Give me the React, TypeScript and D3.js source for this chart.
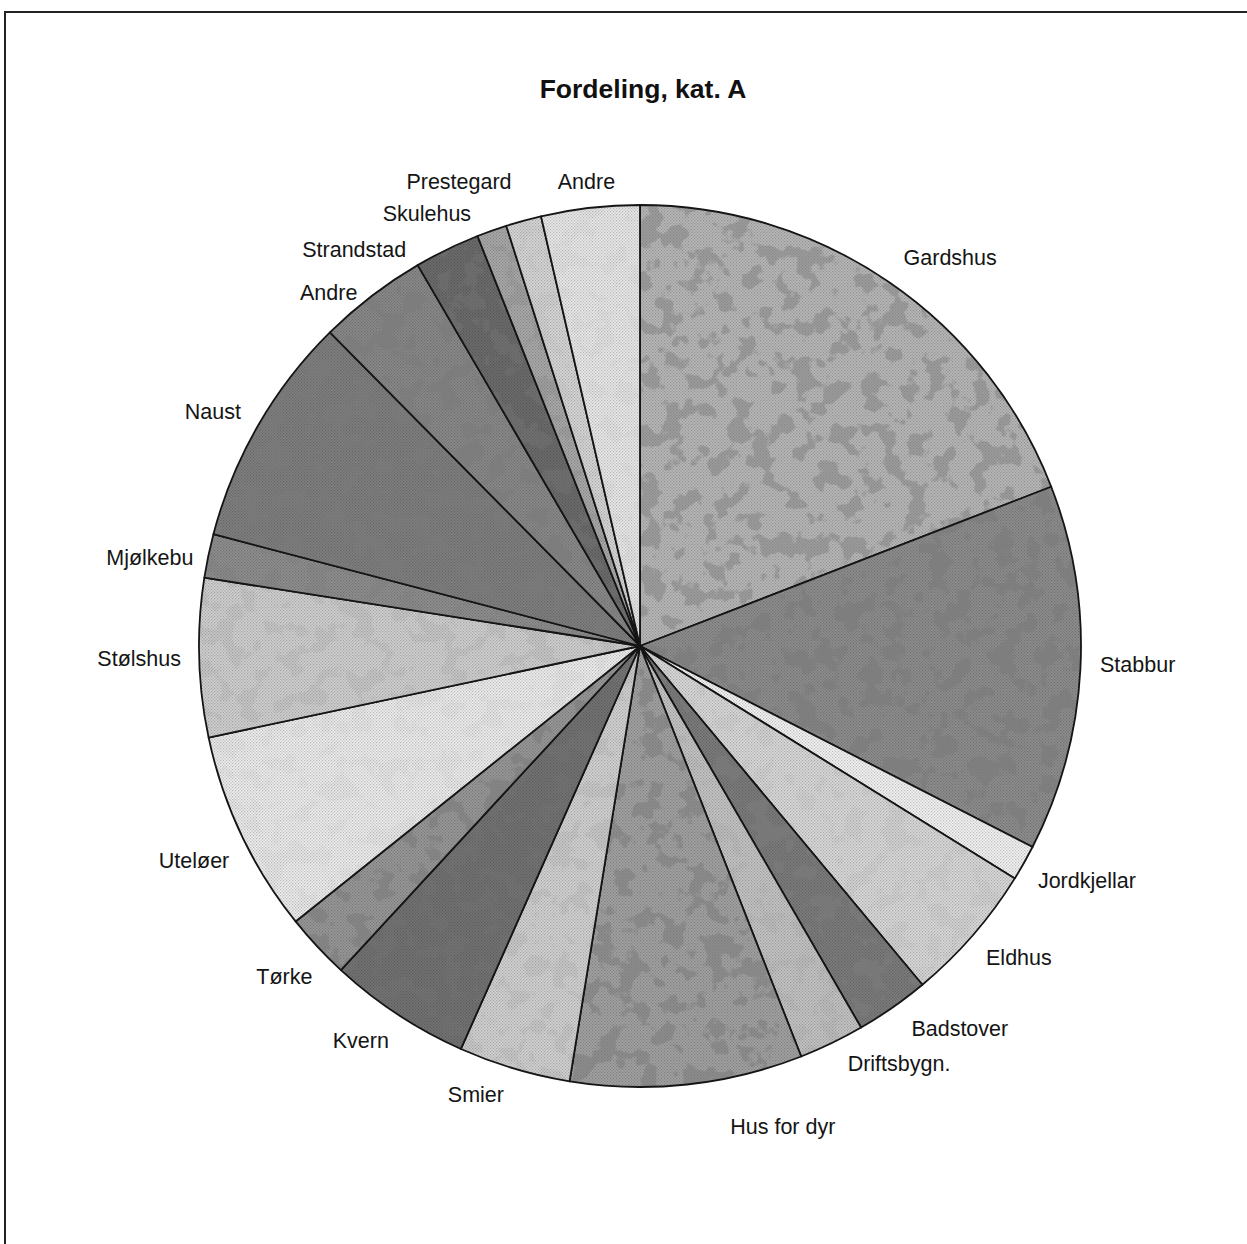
import React, { useRef, useEffect } from 'react';
import * as d3 from 'd3';

// Fordeling, kat. A  (shares in percent, clockwise from 12 o'clock)
const categories = [
  'Gardshus', 'Stabbur', 'Jordkjellar', 'Eldhus', 'Badstover', 'Driftsbygn.',
  'Hus for dyr', 'Smier', 'Kvern', 'Tørke', 'Uteløer', 'Stølshus', 'Mjølkebu',
  'Naust', 'Andre', 'Strandstad', 'Skulehus', 'Prestegard', 'Andre'
];
const shares = [
  19.1, 13.4, 1.3, 5.1, 2.7, 2.4,
  8.5, 4.1, 5.2, 2.4, 7.4, 5.8, 1.6,
  8.5, 4.0, 2.4, 1.1, 1.3, 3.6
];

// grey tone of each slice and how blotchy it is (0 = plain stipple)
const tones = [
  '#b8b8b8', '#8e8e8e', '#f2f2f2', '#d9d9d9', '#7c7c7c', '#c4c4c4',
  '#a2a2a2', '#d2d2d2', '#737373', '#989898', '#ededed', '#d0d0d0', '#8f8f8f',
  '#808080', '#8a8a8a', '#6c6c6c', '#a9a9a9', '#d6d6d6', '#e9e9e9'
];
const blotch = [
  0.45, 0.7, 0, 0.06, 0.6, 0.08,
  0.55, 0.1, 0.2, 0.6, 0.04, 0.1, 0.3,
  0.45, 0.7, 0.3, 0.2, 0.04, 0.04
];

// label nudges: [degrees off the mid angle, px outside the rim]
const labelNudge = [
  [4.2, 56], [-0.8, 57], [-1.7, 64], [-1.5, 50], [-4.9, 58], [-6, 51],
  [-10.4, 61], [3.5, 37], [1.9, 43], [0, 45], [-0.4, 54], [0, 60], [-1.6, 57],
  [-1.3, 46], [-3.9, 30], [-9.9, 47], [-6.6, 41], [-6, 57], [-0.1, 26]
];

const W = 1247;
const H = 1244;
const cx = 640;
const cy = 646;
const radius = 441;
const FONT = '"Liberation Sans", Arial, sans-serif';

export default function App() {
  const svgRef = useRef<SVGSVGElement>(null);

  useEffect(() => {
    const svg = d3.select(svgRef.current);
    svg.selectAll('*').remove();

    const defs = svg.append('defs');

    // halftone stipple
    const pat = defs
      .append('pattern')
      .attr('id', 'stipple')
      .attr('width', 3)
      .attr('height', 3)
      .attr('patternUnits', 'userSpaceOnUse');
    pat.append('rect').attr('x', 0).attr('y', 0).attr('width', 1.2).attr('height', 1.2).attr('fill', '#000');
    pat.append('rect').attr('x', 1.5).attr('y', 1.5).attr('width', 1.2).attr('height', 1.2).attr('fill', '#000');

    // blotchy dark patches
    const filt = defs
      .append('filter')
      .attr('id', 'blot')
      .attr('x', 0)
      .attr('y', 0)
      .attr('width', 1)
      .attr('height', 1);
    filt
      .append('feTurbulence')
      .attr('type', 'fractalNoise')
      .attr('baseFrequency', 0.045)
      .attr('numOctaves', 3)
      .attr('seed', 7)
      .attr('result', 'noise');
    filt
      .append('feColorMatrix')
      .attr('in', 'noise')
      .attr('type', 'matrix')
      .attr('values', '0 0 0 0 0.2  0 0 0 0 0.2  0 0 0 0 0.2  14 0 0 0 -7.4')
      .attr('result', 'spots');
    filt
      .append('feComposite')
      .attr('in', 'spots')
      .attr('in2', 'SourceAlpha')
      .attr('operator', 'in');

    svg
      .append('rect')
      .attr('width', W)
      .attr('height', H)
      .attr('fill', '#fff');

    // frame (top and left edges only)
    svg
      .append('path')
      .attr('d', `M5,${H} L5,12 L${W},12`)
      .attr('fill', 'none')
      .attr('stroke', '#222')
      .attr('stroke-width', 2);

    svg
      .append('text')
      .attr('x', 643)
      .attr('y', 98)
      .attr('text-anchor', 'middle')
      .style('font-family', FONT)
      .style('font-weight', 'bold')
      .style('font-size', '26.5px')
      .attr('fill', '#111')
      .text('Fordeling, kat. A');

    const data = categories.map((name, i) => ({ name, value: shares[i], i }));
    const pie = d3
      .pie<any>()
      .sort(null)
      .value((d: any) => d.value)
      .startAngle(0)
      .endAngle(Math.PI * 2);
    const arcs = pie(data);
    const arc = d3.arc<any>().innerRadius(0).outerRadius(radius);

    const g = svg.append('g').attr('transform', `translate(${cx},${cy})`);

    const slices = g.selectAll('g.slice').data(arcs).enter().append('g').attr('class', 'slice');

    slices
      .append('path')
      .attr('d', arc)
      .attr('fill', (d: any) => tones[d.data.i]);

    slices
      .append('path')
      .attr('d', arc)
      .attr('fill', 'url(#stipple)')
      .attr('opacity', 0.22);

    slices
      .filter((d: any) => blotch[d.data.i] > 0)
      .append('path')
      .attr('d', arc)
      .attr('fill', '#000')
      .attr('filter', 'url(#blot)')
      .attr('opacity', (d: any) => blotch[d.data.i]);

    slices
      .append('path')
      .attr('d', arc)
      .attr('fill', 'none')
      .attr('stroke', '#151515')
      .attr('stroke-width', 1.8)
      .attr('stroke-linejoin', 'round');

    g.selectAll('text.lbl')
      .data(arcs)
      .enter()
      .append('text')
      .attr('class', 'lbl')
      .attr('x', (d: any) => {
        const nd = labelNudge[d.data.i];
        const a = (d.startAngle + d.endAngle) / 2 + (nd[0] * Math.PI) / 180;
        return Math.sin(a) * (radius + nd[1]);
      })
      .attr('y', (d: any) => {
        const nd = labelNudge[d.data.i];
        const a = (d.startAngle + d.endAngle) / 2 + (nd[0] * Math.PI) / 180;
        return -Math.cos(a) * (radius + nd[1]);
      })
      .attr('text-anchor', 'middle')
      .attr('dominant-baseline', 'central')
      .style('font-family', FONT)
      .style('font-size', '21.5px')
      .attr('fill', '#151515')
      .text((d: any) => d.data.name);
  }, []);

  return (
    <svg
      ref={svgRef}
      width={W}
      height={H}
      style={{ position: 'absolute', left: 0, top: 0, display: 'block' }}
    />
  );
}
